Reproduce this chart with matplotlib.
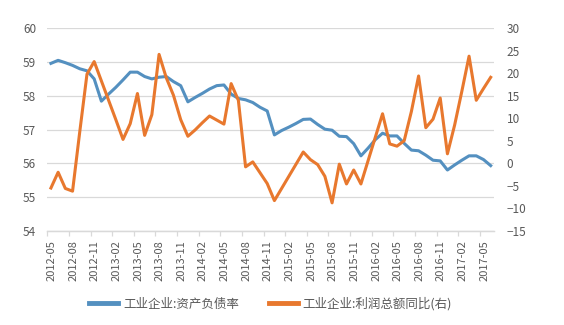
import matplotlib
matplotlib.use('Agg')
import numpy as np
import pandas as pd
import matplotlib.pyplot as plt
from matplotlib.ticker import FixedLocator

plt.rcParams['font.family'] = ['Noto Sans CJK SC', 'DejaVu Sans']

# monthly categories 2012-05 .. 2017-06
months = list(pd.period_range('2012-05', periods=62, freq='M').strftime('%Y-%m'))

# 工业企业:资产负债率 (left axis, %)
debt_ratio = [58.96, 59.05, 58.98, 58.90, 58.80, 58.74, 58.50, 57.84, 58.05, 58.25,
              58.47, 58.70, 58.70, 58.57, 58.50, 58.55, 58.57, 58.42, 58.30, 57.82,
              57.95, 58.07, 58.20, 58.30, 58.32, 58.05, 57.92, 57.88, 57.80, 57.66,
              57.55, 56.84, 56.97, 57.07, 57.18, 57.30, 57.31, 57.15, 57.01, 56.98,
              56.80, 56.79, 56.58, 56.22, 56.45, 56.70, 56.89, 56.81, 56.81, 56.59,
              56.39, 56.37, 56.24, 56.09, 56.07, 55.80, 55.95, 56.09, 56.22, 56.22,
              56.11, 55.93]

# 工业企业:利润总额同比 (right axis, %)
profit_yoy = [-5.5, -2.0, -5.6, -6.2, 7.0, 19.8, 22.6, 18.3, 14.0, 9.7,
              5.3, 8.8, 15.5, 6.2, 10.8, 24.2, 19.0, 15.1, 9.7, 6.0,
              7.4, 9.0, 10.5, 9.6, 8.7, 17.7, 14.0, -0.8, 0.3, -2.1,
              -4.5, -8.3, -5.6, -2.9, -0.2, 2.5, 0.8, -0.3, -2.9, -8.8,
              -0.2, -4.6, -1.5, -4.6, 0.6, 5.8, 11.0, 4.3, 3.8, 5.0,
              11.5, 19.4, 7.9, 9.8, 14.5, 2.1, 8.5, 16.0, 23.8, 14.0,
              16.6, 19.1]

blue = '#5490C0'
orange = '#E8782E'
txt = '#595959'
grid = '#D9D9D9'

x = np.arange(len(months))

fig = plt.figure(figsize=(5.64, 3.25), dpi=100)
ax = fig.add_axes([0.0839, 0.290, 0.7925, 0.623])
ax2 = ax.twinx()

l1, = ax.plot(x, debt_ratio, color=blue, lw=2.2, solid_joinstyle='round')
l2, = ax2.plot(x, profit_yoy, color=orange, lw=2.2, solid_joinstyle='round')

ax.set_xlim(-0.5, len(months) - 0.5)
ax.set_ylim(54, 60)
ax.set_yticks(np.arange(54, 61, 1))
ax2.set_ylim(-15, 30)
ax2.set_yticks(np.arange(-15, 31, 5))

ax.yaxis.grid(True, color=grid, lw=0.9)
ax.set_axisbelow(True)

# labels every 3 months, tick marks at category boundaries
lab_idx = np.arange(0, len(months), 3)
ax.set_xticks(lab_idx + 0.1)
ax.set_xticklabels([months[i] for i in lab_idx], rotation=90, fontsize=8, color=txt)
ax.xaxis.set_minor_locator(FixedLocator(np.arange(-0.5, len(months), 3)))
ax.tick_params(axis='x', which='major', length=0, pad=7)
ax.tick_params(axis='x', which='minor', length=3.5, color=grid, width=0.9)

ax.tick_params(axis='y', length=0, pad=8, labelsize=8.5, labelcolor=txt)
ax2.tick_params(axis='y', length=0, pad=9, labelsize=8.5, labelcolor=txt)

for a in (ax, ax2):
    for s in ('top', 'left', 'right'):
        a.spines[s].set_visible(False)
    a.spines['bottom'].set_color(grid)
    a.spines['bottom'].set_linewidth(0.9)

leg = fig.legend([l1, l2], ['工业企业:资产负债率', '工业企业:利润总额同比(右)'],
                 loc='center', bbox_to_anchor=(0.48, 0.065), ncol=2, frameon=False,
                 fontsize=9, handlelength=2.3, columnspacing=2.4, handletextpad=0.4)
for t in leg.get_texts():
    t.set_color(txt)
for h in leg.legend_handles:
    h.set_linewidth(3.5)

plt.savefig('out.png', dpi=100)
